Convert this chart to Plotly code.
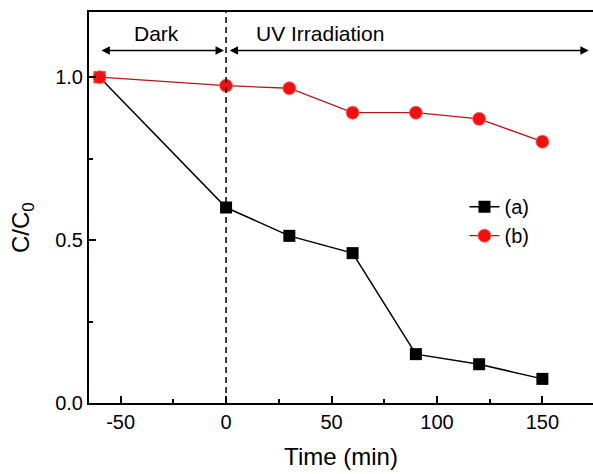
import plotly.graph_objects as go

time_min = [-60, 0, 30, 60, 90, 120, 150]
series_a = [1.0, 0.60, 0.513, 0.46, 0.15, 0.119, 0.074]
series_b = [1.0, 0.974, 0.966, 0.891, 0.891, 0.872, 0.802]
x_ticks = [-50, 0, 50, 100, 150]
x_tick_labels = ["-50", "0", "50", "100", "150"]
y_ticks = [0.0, 0.5, 1.0]
y_tick_labels = ["0.0", "0.5", "1.0"]

FONT = "Liberation Sans, Arial, sans-serif"
RED_M = "#ee1111"
RED_L = "#b01818"

fig = go.Figure()
# series (a) – first point appears red in the reference (overlapped by (b))
fig.add_trace(go.Scatter(
    x=time_min, y=series_a, name="(a)", mode="lines+markers", showlegend=False,
    line=dict(color="black", width=1.5),
    marker=dict(symbol="square", size=12,
                color=[RED_M] + ["black"] * (len(time_min) - 1),
                line=dict(width=0)),
))
fig.add_trace(go.Scatter(
    x=time_min, y=series_b, name="(b)", mode="lines+markers", showlegend=False,
    line=dict(color=RED_L, width=1.3),
    marker=dict(symbol="circle", size=13, color=RED_M,
                line=dict(color="#ff6666", width=0.8)),
))
# legend entries
fig.add_trace(go.Scatter(
    x=[None], y=[None], name="(a)", mode="lines+markers",
    line=dict(color="black", width=1.5),
    marker=dict(symbol="square", size=12, color="black", line=dict(width=0)),
))
fig.add_trace(go.Scatter(
    x=[None], y=[None], name="(b)", mode="lines+markers",
    line=dict(color=RED_L, width=1.3),
    marker=dict(symbol="circle", size=13, color=RED_M,
                line=dict(color="#ff6666", width=0.8)),
))

# vertical dashed separator at t=0
fig.add_shape(type="line", xref="x", yref="y", x0=0, x1=0, y0=0, y1=1.2,
              line=dict(color="black", width=1.5, dash="6px,4px"))

arrow_y = 1.082
for (xs, xe) in [(-59.8, -1.0), (1.0, 172.0)]:
    fig.add_annotation(x=xe, y=arrow_y, ax=xs, ay=arrow_y, xref="x", yref="y",
                       axref="x", ayref="y", text="", showarrow=True,
                       arrowhead=2, startarrowhead=2, arrowside="end+start",
                       arrowsize=1.2, startarrowsize=1.2, arrowwidth=1.4,
                       arrowcolor="black")

fig.add_annotation(x=-33, y=1.133, xref="x", yref="y", text="Dark",
                   showarrow=False, font=dict(family=FONT, size=21, color="black"))
fig.add_annotation(x=44.5, y=1.133, xref="x", yref="y", text="UV Irradiation",
                   showarrow=False, font=dict(family=FONT, size=21, color="black"))

# y axis title (placed slightly below centre as in the reference)
fig.add_annotation(x=-0.133, y=0.45, xref="paper", yref="paper",
                   xanchor="center", yanchor="middle",
                   text="C/C<sub>0</sub>", textangle=-90, showarrow=False,
                   font=dict(family=FONT, size=24, color="black"))

fig.update_layout(
    width=593, height=474,
    margin=dict(l=89, r=0, t=12, b=71),
    plot_bgcolor="white", paper_bgcolor="white",
    font=dict(family=FONT, color="black"),
    showlegend=True,
    legend=dict(x=0.745, y=0.552, xanchor="left", yanchor="top",
                bgcolor="rgba(0,0,0,0)", font=dict(family=FONT, size=20),
                tracegroupgap=0),
    xaxis=dict(range=[-65, 174], tickvals=x_ticks, ticktext=x_tick_labels,
               ticks="inside", ticklen=7, tickwidth=1.5, tickcolor="black",
               minor=dict(tickvals=[-25, 25, 75, 125], ticks="inside", ticklen=4,
                          tickwidth=1.5, tickcolor="black"),
               showline=True, linecolor="black", linewidth=2, mirror=True,
               showgrid=False, zeroline=False,
               tickfont=dict(family=FONT, size=20),
               title=dict(text="Time (min)", font=dict(family=FONT, size=24), standoff=16)),
    yaxis=dict(range=[0, 1.2], tickvals=y_ticks, ticktext=y_tick_labels,
               ticks="inside", ticklen=7, tickwidth=1.5, tickcolor="black",
               minor=dict(tickvals=[0.25, 0.75], ticks="inside", ticklen=4,
                          tickwidth=1.5, tickcolor="black"),
               showline=True, linecolor="black", linewidth=2, mirror=False,
               showgrid=False, zeroline=False,
               tickfont=dict(family=FONT, size=20)),
)

fig.write_html("out.html")
